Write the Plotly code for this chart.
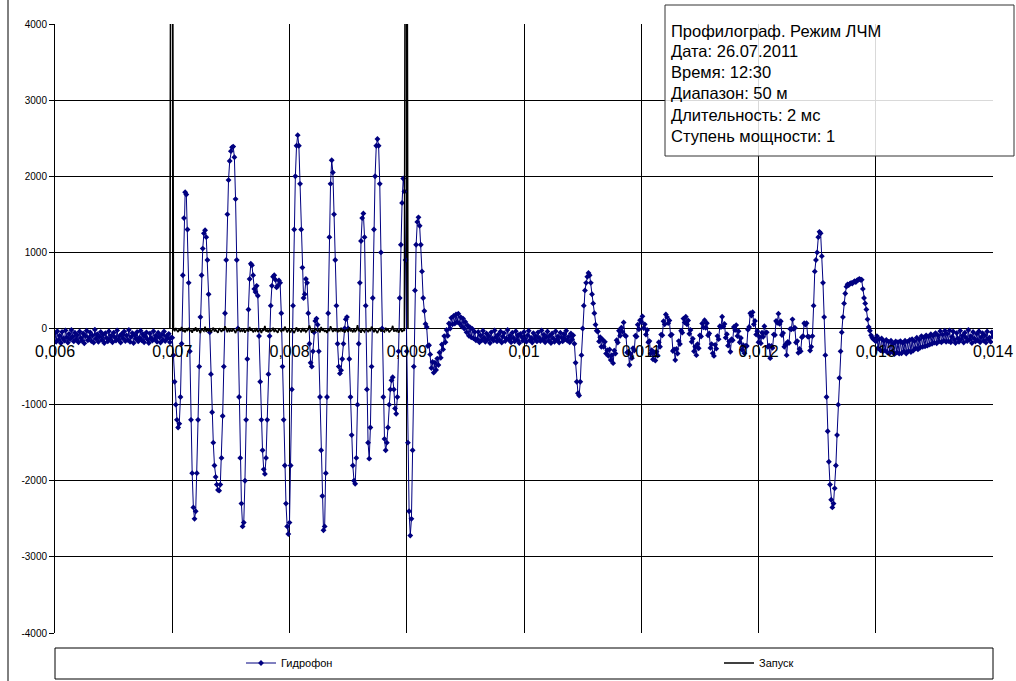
import numpy as np
import plotly.graph_objects as go

W, H = 1016, 681

# time grid of the recorder
t0 = 0.006
sample_step = 1e-5

# hydrophone signal, split into stretches of the record
hydro_pre = [
    -60, -175, -35, -150, -95, -190, -45, -130, -160, -25,
    -115, -185, -70, -140, -20, -105, -170, -55, -145, -85,
    -180, -40, -125, -160, -65, -195, -100, -30, -155, -120,
    -50, -165, -90, -185, -15, -135, -75, -175, -110, -45,
    -150, -80, -190, -60, -125, -170, -35, -140, -95, -180,
    -55, -115, -160, -25, -145, -100, -185, -70, -130, -40,
    -165, -90, -150, -20, -175, -110, -60, -190, -85, -135,
    -45, -170, -120, -30, -155, -75, -180, -105, -50, -145,
    -190, -65, -125, -160, -35, -140, -95, -175, -55, -115,
    -185, -80, -150, -40, -165, -100, -130, -70, -180, -120,
]

hydro_chirp = [
    -120, -350, -700, -1000, -1200, -1300, -1250, -900, -200, 700,
    1450, 1790, 1760, 1300, 600, -300, -1200, -1900, -2350, -2500,
    -2400, -1900, -1200, -500, 150, 700, 1050, 1250, 1290, 1200,
    900, 450, -50, -600, -1100, -1500, -1800, -1950, -2050, -2120,
    -2130, -2050, -1700, -1150, -500, 200, 900, 1500, 1950, 2200,
    2330, 2380, 2390, 2250, 1700, 900, 0, -900, -1700, -2300,
    -2600, -2550, -2000, -1200, -400, 250, 650, 850, 830, 700,
    520, 480, 560, 430, -100, -700, -1200, -1600, -1850, -1910,
    -1700, -1200, -600, -100, 300, 560, 680, 700, 640, 540,
    560, 630, 600, 200, -500, -1200, -1800, -2300, -2600, -2700,
    -2550, -1800, -800, 300, 1300, 2000, 2400, 2540, 2400, 1900,
    1300, 800, 400, 450, 650, 600, 200, -200, -450, -500,
    -300, -50, 100, 130, 50, -300, -900, -1600, -2200, -2650,
    -2600, -1900, -900, 200, 1200, 1900, 2210, 2050, 1500, 900,
    300, -200, -500, -590, -550, -400, -200, 0, 120, 150,
    0, -400, -900, -1400, -1800, -2000, -2040, -1700, -1000, -200,
    600, 1150, 1450, 1510, 1200, 300, -800, -1500, -1710, -1300,
    -500, 400, 1300, 2000, 2400, 2490, 2400, 1900, 1000, 0,
    -900, -1450, -1600, -1500, -1300, -1000, -800, -680, -640, -800,
    -1050, -1120, -900, -300, 400, 1100, 1650, 1970, 1800, 900,
    -300, -1500, -2400, -2720, -2500, -1600, -500, 500, 1100, 1400,
    1460, 1350, 1100, 750, 400, 230, 60, 20, -230, -220,
    -340, -520, -440, -580, -450, -545, -395, -480, -315, -385,
    -210, -275, -100, -180, -20, -95, 65, 0, 140, 55,
    165, 65, 185, 85, 195, 65, 150, 25, 130, 0,
    85, -50, 40, -95, 15, -115, -5, -130, -45, -155,
]

hydro_mid = [
    -140, -45, -180, -90, -155, -30, -120, -175, -65, -145,
    -100, -190, -50, -135, -160, -25, -115, -170, -80, -150,
    -40, -185, -105, -60, -165, -130, -20, -145, -95, -180,
    -55, -125, -170, -35, -150, -85, -190, -70, -110, -160,
    -45, -135, -175, -90, -30, -155, -120, -185, -60, -140,
    -100, -170, -50, -125, -165, -25, -145, -80, -180, -115,
    -40, -160, -95, -190, -65, -130, -175, -35, -150, -105,
    -185, -55, -120, -170, -75, -140, -30, -160, -110, -180,
    -65, -145, -90,
]

hydro_echo = [
    -200, -450, -700, -850, -880, -700, -350, 0, 300, 500,
    600, 680, 730, 700, 600, 450, 330, 200, 50, -30,
    -40, -170, -115, -240, -145, -240, -175, -330, -285, -360,
    -275, -415, -350, -455, -290, -330, -155, -185, -30, -95,
    10, -45, 80, -90, -100, -315, -305, -480, -335, -390,
    -260, -290, -95, -105, 50, -10, 110, 85, 160, 5,
    55, -80, -20, -180, -165, -330, -285, -405, -315, -420,
    -305, -355, -180, -240, -80, -90, 95, 55, 185, 150,
    70, 105, -90, -80, -295, -275, -415, -270, -330, -165,
    -205, -30, -55, 130, 80, 155, 55, 105, -70, -20,
    -175, -135, -300, -240, -350, -205, -260, -90, -105, 65,
    15, 110, 10, 70, -90, -65, -255, -205, -325, -360,
    -215, -265, -100, -140, 30, 20, 155, 25, 60, -120,
    -75, -225, -170, -305, -140, -155, 20, -20, 45, -100,
    -35, -180, -125, -280, -220, -325, -230, -230, -15, 20,
    200, 170, 215, 55, 100, -80, -35, -180, -110, -195,
    -55, -110, 30, -60, -50, -240, -225, -390, -230, -255,
    -80, -85, 100, 75, 195, 60, 95, -85, -60, -240,
    -210, -350, -175, -190, -5, -10, 120, -5, 10, -185,
    -165, -320, -270, -300, -115, -100, 70, 50, 70, -105,
    -110, -290, -240, -100, 300, 750, 900, 1000, 1200, 1270,
    1250, 950, 600, 150, -350, -900, -1350, -1750, -2050, -2250,
    -2350, -2300, -2100, -1800, -1400, -1000, -650, -300, -50, 150,
    330, 460, 550, 580, 570, 590, 600, 590, 610, 620,
    610, 630, 640, 650, 640, 640, 520, 400, 330, 250,
    120, 20, -30, -90, -120, -140, -150, -170,
]

hydro_tail = [
    -100, -260, -140, -285, -130, -300, -165, -290, -150, -315,
    -175, -320, -160, -305, -200, -335, -170, -315, -180, -330,
    -165, -325, -190, -300, -160, -330, -175, -295, -150, -310,
    -140, -290, -165, -260, -120, -275, -145, -250, -100, -240,
    -120, -235, -90, -225, -110, -210, -75, -200, -95, -185,
    -60, -195, -90, -170, -35, -180, -80, -160, -30, -175,
    -70, -165, -25, -180, -110, -40, -150, -190, -60, -130,
    -175, -30, -140, -95, -185, -55, -120, -165, -20, -145,
    -100, -190, -45, -130, -170, -70, -155, -35, -180, -115,
    -60, -160, -90, -185, -40, -140, -120, -175, -50, -105,
]

# trigger channel: pulse edges at the start and end of the sweep, noise between
trigger_start = 0.00698
trigger_rise = [0, 8000, 8000]
trigger_body = [
    -10, -35, 5, -25, -45, -5, -30, 20, -40, -15,
    -50, -10, -25, 10, -35, -20, -55, -5, -30, 15,
    -40, -15, -25, -60, 0, -20, -35, 25, -45, -10,
    -30, -5, -50, -20, 10, -40, -15, -35, -55, 5,
    -25, -45, -10, -30, 30, -20, -50, -5, -35, -15,
    -40, 0, -25, -60, -10, -30, 15, -45, -20, -35,
    -5, -55, -25, -15, -40, 20, -30, -10, -50, -20,
    -35, 5, -45, -25, -10, -60, -15, -30, 35, -40,
    -20, -50, -5, -35, -25, 10, -45, -15, -30, -55,
    0, -25, -40, -10, -35, 25, -20, -50, -15, -30,
    -45, -5, -30, -60, -20, 15, -40, -10, -25, -50,
    5, -35, -15, -45, -25, -10, 40, -30, -55, -20,
    -40, -5, -25, -35, -15, -50, 20, -30, -10, -45,
    -20, -60, -5, -35, 30, -25, -45, -15, -30, 0,
    -50, -20, -35, 10, -40, -10, -55, -25, -15, -45,
    15, -30, -20, -50, -5, -40, -25, 45, -35, -15,
    -55, -10, -30, -45, 0, -20, -40, -15, -35, 25,
    -25, -50, -10, -30, -60, -20, 5, -40, -15, -35,
    -45, 10, -25, -5, -50, -30, -15, 35, -40, -20,
    -35, -10, -55, -25, 0, -45, -20, -30,
]
trigger_fall = [8000, 8000, 0]

x_tick_values = [0.006, 0.007, 0.008, 0.009, 0.010, 0.011, 0.012, 0.013, 0.014]
x_tick_labels = ["0,006", "0,007", "0,008", "0,009", "0,01", "0,011", "0,012", "0,013", "0,014"]
y_tick_values = [-4000, -3000, -2000, -1000, 0, 1000, 2000, 3000, 4000]
y_tick_labels = ["-4000", "-3000", "-2000", "-1000", "0", "1000", "2000", "3000", "4000"]

info_lines = [
    "Профилограф. Режим ЛЧМ",
    "Дата: 26.07.2011",
    "Время: 12:30",
    "Диапазон: 50 м",
    "Длительность: 2 мс",
    "Ступень мощности: 1",
]

segments = [hydro_pre, hydro_chirp, hydro_mid, hydro_echo, hydro_tail]
expected = [100, 260, 83, 258, 100]
if [len(s) for s in segments] != expected or len(trigger_body) != 198:
    raise ValueError(f"segment lengths {[len(s) for s in segments]}, trigger {len(trigger_body)}")

hydro = np.concatenate(segments)
t_hydro = t0 + sample_step * np.arange(len(hydro))
trigger = np.array(trigger_rise + trigger_body + trigger_fall)
t_trigger = trigger_start + sample_step * np.arange(len(trigger))

FONT = "Liberation Sans, Arial, sans-serif"


def px(x):
    return x / W


def py(y):
    return 1 - y / H


fig = go.Figure()
fig.add_trace(go.Scatter(
    x=t_hydro, y=hydro, name="Гидрофон", mode="lines+markers", legend="legend",
    line=dict(color="#000080", width=1),
    marker=dict(symbol="diamond", size=4.5, color="#000080", line=dict(width=0)),
))
fig.add_trace(go.Scatter(
    x=t_trigger, y=trigger, name="Запуск", mode="lines", legend="legend2",
    line=dict(color="#000000", width=1.6),
))

legend_style = dict(
    orientation="h", yanchor="middle", xanchor="left",
    font=dict(size=11, family=FONT, color="black"), itemwidth=30,
    bgcolor="rgba(0,0,0,0)", borderwidth=0,
)

fig.update_layout(
    width=W, height=H, autosize=False,
    margin=dict(l=0, r=0, t=0, b=0, autoexpand=False),
    paper_bgcolor="white", plot_bgcolor="white",
    font=dict(family=FONT, color="black"),
    showlegend=True,
    legend=dict(x=px(241), y=py(663), **legend_style),
    legend2=dict(x=px(719), y=py(663), **legend_style),
    xaxis=dict(
        domain=[px(55), px(993)], range=[0.006, 0.014],
        tickmode="array", tickvals=x_tick_values, ticktext=x_tick_labels,
        tickfont=dict(size=16, family=FONT),
        showgrid=True, gridcolor="black", gridwidth=1,
        zeroline=False, showline=False, automargin=False,
        anchor="free", position=py(328), ticks="", ticklabelstandoff=12,
    ),
    yaxis=dict(
        domain=[py(633), py(24)], range=[-4000, 4000],
        tickmode="array", tickvals=y_tick_values, ticktext=y_tick_labels,
        tickfont=dict(size=10, family=FONT),
        showgrid=True, gridcolor="black", gridwidth=1,
        zeroline=True, zerolinecolor="black", zerolinewidth=1,
        showline=True, linecolor="black", linewidth=1, automargin=False,
        ticks="outside", ticklen=5, tickcolor="black",
    ),
)

shapes = [
    # outer chart frame edge
    dict(type="line", xref="paper", yref="paper", x0=px(8), x1=px(8), y0=0, y1=1,
         line=dict(color="black", width=1)),
    # legend frame
    dict(type="rect", xref="paper", yref="paper", x0=px(55), x1=px(993), y0=py(679), y1=py(648),
         line=dict(color="black", width=1), fillcolor="white", layer="below"),
    # info box
    dict(type="rect", xref="paper", yref="paper", x0=px(665), x1=px(1014), y0=py(156), y1=py(5),
         line=dict(color="#333333", width=1), fillcolor="rgba(255,255,255,0.85)", layer="above"),
]
fig.update_layout(shapes=shapes)

line_y = [31, 51, 72, 93, 115, 136]
for text, y in zip(info_lines, line_y):
    fig.add_annotation(
        text=text, xref="paper", yref="paper", x=px(669), y=py(y),
        xanchor="left", yanchor="middle", showarrow=False,
        font=dict(size=16.5, family=FONT, color="black"),
    )

fig.write_html("out.html")
